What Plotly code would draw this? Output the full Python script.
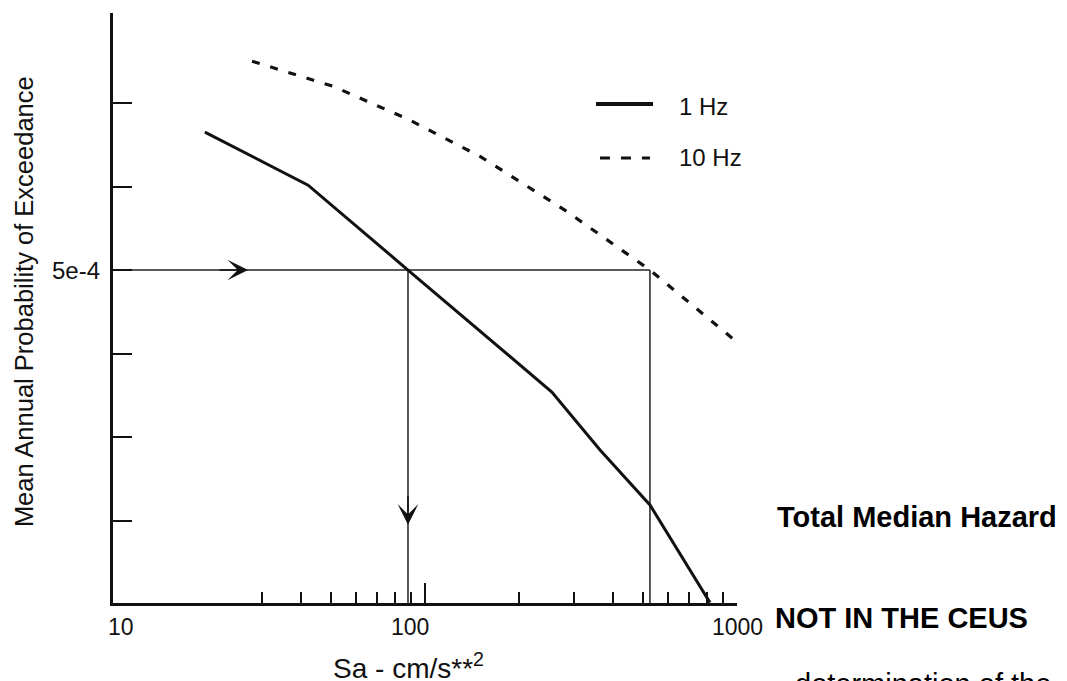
import numpy as np
import plotly.graph_objects as go

# ---- data ----
sa_1hz = [19.7, 42.2, 88.2, 255, 364, 526, 819]
p_1hz = [3.35e-3, 1.61e-3, 5.0e-4, 9.3e-5, 4.18e-5, 1.96e-5, 5.1e-6]

sa_10hz = [27.9, 50.7, 88.2, 151, 283, 526, 1000]
p_10hz = [8.9e-3, 6.3e-3, 4.0e-3, 2.38e-3, 1.13e-3, 5.0e-4, 1.85e-4]

target_p = 5e-4
sa_target_1hz = 88.2
sa_target_10hz = 526
arrow_right_sa = 27.1
arrow_down_p = 1.49e-5

x_min, x_max = 10, 1000
y_min, y_max = 5.07e-6, 1.73e-2

x_major_ticks = [100, 1000]
x_minor_ticks = [30, 40, 50, 60, 70, 80, 90, 200, 300, 400, 500, 600, 700, 800, 900]
x_tick_labels = ["10", "100", "1000"]
x_tick_label_vals = [10, 100, 1000]
x_tick_label_shift = [8, -15, 0]
y_tickvals = [1.581e-5, 5e-5, 1.581e-4, 5e-4, 1.581e-3, 5e-3, 1.73e-2]

FONT = "Liberation Sans, Arial, Helvetica, sans-serif"
INK = "#111111"

fig = go.Figure()

# guide lines
fig.add_trace(go.Scatter(x=[x_min, sa_target_10hz], y=[target_p, target_p], mode="lines",
                         line=dict(color="#222", width=1.5), showlegend=False, hoverinfo="skip"))
fig.add_trace(go.Scatter(x=[sa_target_1hz, sa_target_1hz], y=[target_p, y_min], mode="lines",
                         line=dict(color="#222", width=1.5), showlegend=False, hoverinfo="skip"))
fig.add_trace(go.Scatter(x=[sa_target_10hz, sa_target_10hz], y=[target_p, y_min], mode="lines",
                         line=dict(color="#222", width=1.5), showlegend=False, hoverinfo="skip"))

# hazard curves
fig.add_trace(go.Scatter(x=sa_1hz, y=p_1hz, mode="lines", name="1 Hz",
                         line=dict(color=INK, width=3), showlegend=False))
fig.add_trace(go.Scatter(x=sa_10hz, y=p_10hz, mode="lines", name="10 Hz",
                         line=dict(color=INK, width=3.2, dash="8px,11px"), showlegend=False))

annotations = []
# arrows
annotations.append(dict(x=np.log10(arrow_right_sa), y=np.log10(target_p), xref="x", yref="y",
                        ax=-30, ay=0, showarrow=True, arrowhead=3, arrowsize=2.3,
                        arrowwidth=1.5, arrowcolor="#111", text=""))
annotations.append(dict(x=np.log10(sa_target_1hz), y=np.log10(arrow_down_p), xref="x", yref="y",
                        ax=0, ay=-30, showarrow=True, arrowhead=3, arrowsize=2.3,
                        arrowwidth=1.5, arrowcolor="#111", text=""))

# x tick labels
for lab, v, s in zip(x_tick_labels, x_tick_label_vals, x_tick_label_shift):
    annotations.append(dict(x=np.log10(v), y=-0.0407, xref="x", yref="paper", text=lab,
                            showarrow=False, xanchor="center", yanchor="middle", xshift=s,
                            font=dict(family=FONT, size=23, color=INK)))
# y tick label
annotations.append(dict(x=0, y=np.log10(target_p), xref="paper", yref="y", text="5e-4",
                        showarrow=False, xanchor="right", yanchor="middle", xshift=-11,
                        font=dict(family=FONT, size=24, color=INK)))
# axis titles
annotations.append(dict(x=-0.1426, y=0.51, xref="paper", yref="paper",
                        text="Mean Annual Probability of Exceedance", textangle=-90,
                        showarrow=False, xanchor="center", yanchor="middle",
                        font=dict(family=FONT, size=25.5, color=INK)))
annotations.append(dict(x=0.4728, y=-0.1068, xref="paper", yref="paper",
                        text="Sa - cm/s**<sup>2</sup>",
                        showarrow=False, xanchor="center", yanchor="middle",
                        font=dict(family=FONT, size=28, color=INK)))
# legend text
annotations.append(dict(x=0.9038, y=0.8407, xref="paper", yref="paper", text="1 Hz",
                        showarrow=False, xanchor="left", yanchor="middle",
                        font=dict(family=FONT, size=24, color=INK)))
annotations.append(dict(x=0.9038, y=0.7559, xref="paper", yref="paper", text="10 Hz",
                        showarrow=False, xanchor="left", yanchor="middle",
                        font=dict(family=FONT, size=24, color=INK)))
# slide overlay texts
annotations.append(dict(x=1.0609, y=0.1458, xref="paper", yref="paper", text="<b>Total Median Hazard</b>",
                        showarrow=False, xanchor="left", yanchor="middle",
                        font=dict(family=FONT, size=29, color="#000")))
annotations.append(dict(x=1.0577, y=-0.0254, xref="paper", yref="paper", text="<b>NOT IN THE CEUS</b>",
                        showarrow=False, xanchor="left", yanchor="middle",
                        font=dict(family=FONT, size=29, color="#000")))
annotations.append(dict(x=1.5064, y=-0.107, xref="paper", yref="paper", text="determination of the",
                        showarrow=False, xanchor="right", yanchor="top",
                        font=dict(family=FONT, size=29, color="#000")))

shapes = [
    dict(type="line", xref="paper", yref="paper", x0=0.774, x1=0.8654, y0=0.8458, y1=0.8458,
         line=dict(color=INK, width=4)),
    dict(type="line", xref="paper", yref="paper", x0=0.7804, x1=0.8606, y0=0.7542, y1=0.7542,
         line=dict(color=INK, width=3, dash="10px,11px")),
]

fig.update_layout(
    width=1067, height=681,
    margin=dict(l=113, r=330, t=13, b=78),
    paper_bgcolor="white", plot_bgcolor="white",
    annotations=annotations, shapes=shapes,
    showlegend=False,
    xaxis=dict(type="log", range=[np.log10(x_min), np.log10(x_max)],
               showline=True, linecolor=INK, linewidth=3, showgrid=False, zeroline=False,
               ticks="inside", tickmode="array", tickvals=x_major_ticks, ticklen=20, tickwidth=2,
               tickcolor=INK, showticklabels=False,
               minor=dict(tickmode="array", tickvals=x_minor_ticks, ticks="inside", ticklen=11,
                          tickwidth=2, tickcolor=INK, showgrid=False)),
    yaxis=dict(type="log", range=[np.log10(y_min), np.log10(y_max)],
               showline=True, linecolor=INK, linewidth=3, showgrid=False, zeroline=False,
               ticks="inside", tickmode="array", tickvals=y_tickvals, ticklen=19, tickwidth=2,
               tickcolor=INK, showticklabels=False),
)

fig.write_html("out.html", config={"displayModeBar": False},
               post_script="document.body.style.margin='0';")
